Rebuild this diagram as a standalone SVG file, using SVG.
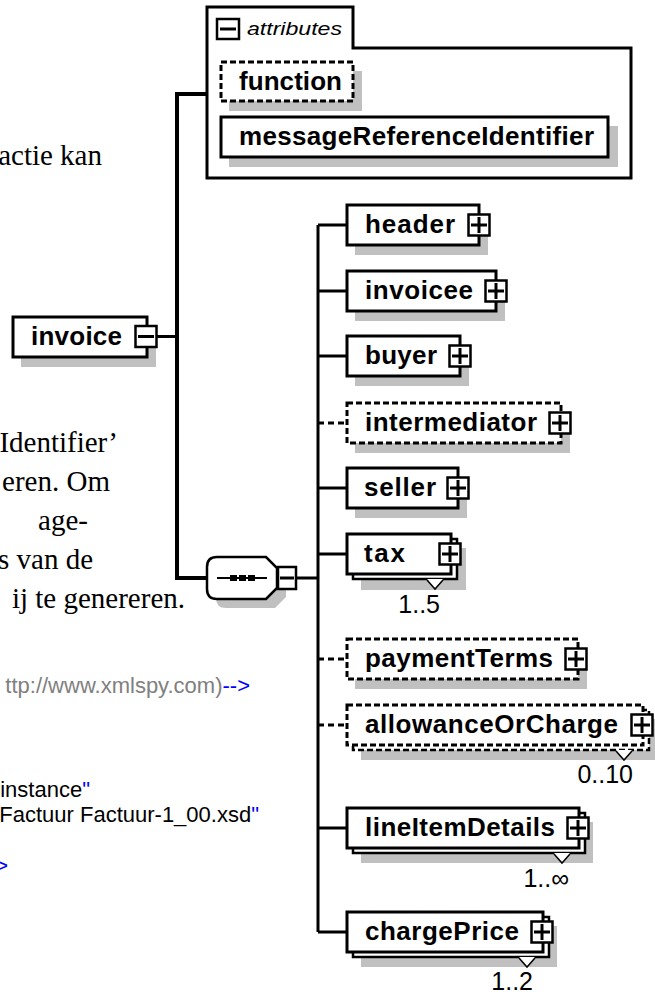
<svg xmlns="http://www.w3.org/2000/svg" xmlns:xlink="http://www.w3.org/1999/xlink" width="655" height="994" viewBox="0 0 655 994">
<style>
.box{fill:#fff;stroke:#000;stroke-width:3}
.back{fill:#fff;stroke:#000;stroke-width:2.5}
.dash{stroke-dasharray:6 3}
.sh{fill:#c0c0c0}
.lbl{font-family:"Liberation Sans",Arial,sans-serif;font-weight:bold;font-size:26px;fill:#000}
.conn{stroke:#000;stroke-width:3;fill:none}
.cdash{stroke-dasharray:6 4}
.pm{fill:#fff;stroke:#000;stroke-width:2.5}
.sign{stroke:#000;stroke-width:3;fill:none}
.mult{font-family:"Liberation Sans",Arial,sans-serif;font-size:25px;fill:#000;text-anchor:end}
.notch{fill:#fff;stroke:none}
.notchl{fill:none;stroke:#000;stroke-width:1.5}
.doc{font-family:"Liberation Serif","Times New Roman",serif;font-size:29px;fill:#000;text-anchor:end}
.code{font-family:"Liberation Sans",Arial,sans-serif;font-size:22px;fill:#000}
.gray{fill:#808080}
.blue{fill:#0000ff}
</style>
<defs>
<g id="plus"><rect x="-10.5" y="-10.5" width="21" height="21" class="pm"/><path d="M-8,0H8M0,-8V8" class="sign"/></g>
<g id="minus"><rect x="-10.5" y="-10.5" width="21" height="21" class="pm"/><path d="M-8,0H8" class="sign"/></g>
</defs>

<g id="background-text">
<text class="doc" x="102" y="165">actie kan</text>
<text class="doc" x="118" y="452">Identifier’</text>
<text class="doc" x="110" y="491">eren. Om</text>
<text class="doc" x="88" y="530">age-</text>
<text class="doc" x="93" y="569">s van de</text>
<text class="doc" x="185" y="608">ij te genereren.</text>
<text class="code" x="250" y="693" text-anchor="end"><tspan class="gray">ttp://www.xmlspy.com)</tspan><tspan class="blue">--&gt;</tspan></text>
<text class="code" x="90" y="797" text-anchor="end">instance<tspan class="blue">"</tspan></text>
<text class="code" x="259" y="822" text-anchor="end">Factuur Factuur-1_00.xsd<tspan class="blue">"</tspan></text>
<text class="code blue" x="8" y="873" text-anchor="end">&gt;</text>
</g>

<g id="connectors">
<path class="conn" style="stroke-width:4" d="M207,94H177V578H207"/>
<path class="conn" d="M156,336.5H177"/>
<path class="conn" d="M296,578H318M318,225V932"/>
<path class="conn" d="M318,225H347M318,291H347M318,356H347M318,488H347M318,554H347M318,828H347M318,932H347"/>
<path class="conn cdash" d="M318,423H347M318,659H347M318,725H347"/>
</g>

<g id="attributes">
<path class="box" d="M207,7H353V48H631V178H207Z"/>
<rect x="217" y="19" width="22" height="20" class="pm"/>
<path d="M220,29H236" class="sign"/>
<text x="247" y="35" font-family="Liberation Sans, Arial, sans-serif" font-style="italic" font-size="19" textLength="95" lengthAdjust="spacingAndGlyphs" fill="#000">attributes</text>
</g>

<g id="function">
<rect class="sh" x="229" y="71" width="133" height="40"/>
<rect class="box dash" x="221" y="62" width="132" height="39"/>
<text class="lbl" x="239" y="90" textLength="103">function</text>
</g>

<g id="messageReferenceIdentifier">
<rect class="sh" x="229" y="126" width="389" height="41"/>
<rect class="box" x="221" y="117" width="387" height="40"/>
<text class="lbl" x="239" y="145" textLength="355">messageReferenceIdentifier</text>
</g>

<g id="invoice">
<rect class="sh" x="21" y="326" width="135" height="41"/>
<rect class="box" x="13" y="317" width="134" height="40"/>
<text class="lbl" x="31" y="345" textLength="91">invoice</text>
<use xlink:href="#minus" x="146" y="336.5"/>
</g>

<g id="sequence">
<path class="sh" d="M226,566H275L286,577V597L275,608H226Q216,608 216,598V576Q216,566 226,566Z"/>
<path d="M217,557H266L277,568V588L266,599H217Q207,599 207,589V567Q207,557 217,557Z" fill="#fff" stroke="#000" stroke-width="2.5"/>
<path d="M217,578H267" stroke="#000" stroke-width="2"/>
<rect x="230" y="575" width="7" height="6"/>
<rect x="239" y="575" width="7" height="6"/>
<rect x="248" y="575" width="7" height="6"/>
<rect x="278" y="567" width="18" height="22" class="pm"/>
<path d="M280,578H294" class="sign"/>
</g>

<g id="header">
<rect class="sh" x="355" y="214" width="133" height="41"/>
<rect class="box" x="347" y="205" width="132" height="40"/>
<text class="lbl" x="365" y="233" textLength="90">header</text>
<use xlink:href="#plus" x="479" y="225"/>
</g>

<g id="invoicee">
<rect class="sh" x="355" y="280" width="150" height="41"/>
<rect class="box" x="347" y="271" width="149" height="40"/>
<text class="lbl" x="365" y="299" textLength="108">invoicee</text>
<use xlink:href="#plus" x="496" y="291"/>
</g>

<g id="buyer">
<rect class="sh" x="355" y="345" width="114" height="41"/>
<rect class="box" x="347" y="336" width="113" height="40"/>
<text class="lbl" x="365" y="364" textLength="72">buyer</text>
<use xlink:href="#plus" x="460" y="356"/>
</g>

<g id="intermediator">
<rect class="sh" x="355" y="412" width="215" height="41"/>
<rect class="box dash" x="347" y="403" width="214" height="40"/>
<text class="lbl" x="365" y="431" textLength="172">intermediator</text>
<use xlink:href="#plus" x="560" y="423"/>
</g>

<g id="seller">
<rect class="sh" x="355" y="477" width="112" height="41"/>
<rect class="box" x="347" y="468" width="111" height="40"/>
<text class="lbl" x="364" y="496" textLength="72">seller</text>
<use xlink:href="#plus" x="458" y="488"/>
</g>

<g id="tax">
<rect class="sh" x="361" y="548" width="105" height="42"/>
<rect class="back" x="353" y="539" width="104" height="40"/>
<polygon class="notch" points="427,579 435,589 443,579"/>
<path class="notchl" d="M427,580L435,589L443,580"/>
<rect class="box" x="347" y="534" width="104" height="40"/>
<text class="lbl" x="364" y="562" textLength="41">tax</text>
<use xlink:href="#plus" x="450" y="554"/>
<text class="mult" x="440" y="613">1..5</text>
</g>

<g id="paymentTerms">
<rect class="sh" x="355" y="648" width="232" height="41"/>
<rect class="box dash" x="347" y="639" width="231" height="40"/>
<text class="lbl" x="365" y="667" textLength="188">paymentTerms</text>
<use xlink:href="#plus" x="576" y="659"/>
</g>

<g id="allowanceOrCharge">
<rect class="sh" x="361" y="719" width="294" height="41"/>
<rect class="back dash" x="353" y="710" width="296" height="40"/>
<polygon class="notch" points="616,750 624,760 632,750"/>
<path class="notchl" d="M616,751L624,760L632,751"/>
<rect class="box dash" x="347" y="705" width="296" height="40"/>
<text class="lbl" x="365" y="733" textLength="253">allowanceOrCharge</text>
<use xlink:href="#plus" x="642" y="725"/>
<text class="mult" x="633" y="783">0..10</text>
</g>

<g id="lineItemDetails">
<rect class="sh" x="361" y="822" width="232" height="41"/>
<rect class="back" x="353" y="813" width="232" height="40"/>
<polygon class="notch" points="554,853 562,863 570,853"/>
<path class="notchl" d="M554,854L562,863L570,854"/>
<rect class="box" x="347" y="808" width="232" height="40"/>
<text class="lbl" x="365" y="836" textLength="190">lineItemDetails</text>
<use xlink:href="#plus" x="578" y="828"/>
<text class="mult" x="569" y="887">1..∞</text>
</g>

<g id="chargePrice">
<rect class="sh" x="361" y="926" width="196" height="41"/>
<rect class="back" x="353" y="917" width="196" height="40"/>
<polygon class="notch" points="519,957 527,967 535,957"/>
<path class="notchl" d="M519,958L527,967L535,958"/>
<rect class="box" x="347" y="912" width="196" height="40"/>
<text class="lbl" x="365" y="940" textLength="154">chargePrice</text>
<use xlink:href="#plus" x="542" y="932"/>
<text class="mult" x="533" y="990">1..2</text>
</g>
</svg>
